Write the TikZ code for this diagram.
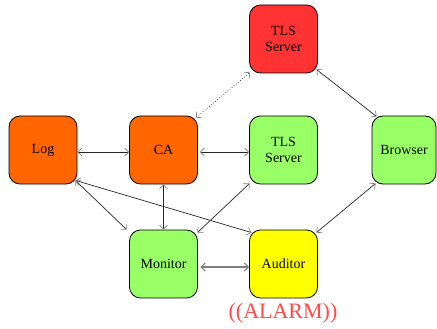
\documentclass[tikz,border=0pt]{standalone}
\usepackage{fontspec}
\setmainfont{Liberation Serif}
\usetikzlibrary{arrows.meta}
\definecolor{orangebox}{HTML}{FF6600}
\definecolor{redbox}{HTML}{FF3333}
\definecolor{greenbox}{HTML}{99FF66}
\definecolor{yellowbox}{HTML}{FFFF00}
\definecolor{alarmred}{HTML}{FF4A4A}
\begin{document}
\begin{tikzpicture}[x=1pt,y=-1pt,
  box/.style={draw=black, line width=0.8pt, rounded corners=11pt, minimum width=68pt, minimum height=68pt, inner sep=0pt, align=center, font=\fontsize{14}{16}\selectfont},
  link/.style={line width=0.7pt, draw=black!85, {Straight Barb[length=4pt,width=8pt,color=gray]}-{Straight Barb[length=4pt,width=8pt,color=gray]}},
  ]
\useasboundingbox (0,0) rectangle (437,329);
\node[box, fill=orangebox] (log) at (43,150) {Log};
\node[box, fill=orangebox] (ca) at (163.5,150) {CA};
\node[box, fill=greenbox] (tlsg) at (283.5,150) {TLS\\Server};
\node[box, fill=greenbox, minimum width=64pt] (browser) at (404,150) {Browser};
\node[box, fill=redbox] (tlsr) at (283.5,39) {TLS\\Server};
\node[box, fill=greenbox] (mon) at (163.5,264) {Monitor};
\node[box, fill=yellowbox] (aud) at (283.5,264) {Auditor};
\node[text=alarmred, font=\fontsize{22}{24}\selectfont, inner sep=0pt] (alarm) at (283,313) {((ALARM))};

\draw[link] ([yshift=-2pt]log.east) -- ([yshift=-2pt]ca.west);
\draw[link] ([xshift=2pt,yshift=-2pt]ca.east) -- ([yshift=-2pt]tlsg.west);
\draw[link, dotted] ([xshift=-2pt,yshift=-2pt]ca.north east) -- ([xshift=1pt,yshift=1pt]tlsr.south west);
\draw[link] ([xshift=-1.5pt,yshift=4pt]tlsr.south east) -- ([xshift=5pt,yshift=-1pt]browser.north west);
\draw[link] ([xshift=4pt,yshift=1pt]browser.south west) -- ([xshift=-1.5pt,yshift=-3pt]aud.north east);
\draw[link] ([xshift=-2pt,yshift=4pt]log.south east) -- ([xshift=-2.5pt]mon.north west);
\draw[link] ([xshift=-2pt,yshift=4pt]log.south east) -- ([xshift=2.5pt,yshift=-3pt]aud.north west);
\draw[link] (ca.south) -- (mon.north);
\draw[link] ([xshift=0.5pt,yshift=1pt]tlsg.south west) -- ([xshift=-0.5pt,yshift=-3pt]mon.north east);
\draw[link, line width=1.1pt, draw=gray] ([xshift=2.5pt,yshift=-3pt]mon.east) -- ([yshift=-3pt]aud.west);
\end{tikzpicture}
\end{document}
